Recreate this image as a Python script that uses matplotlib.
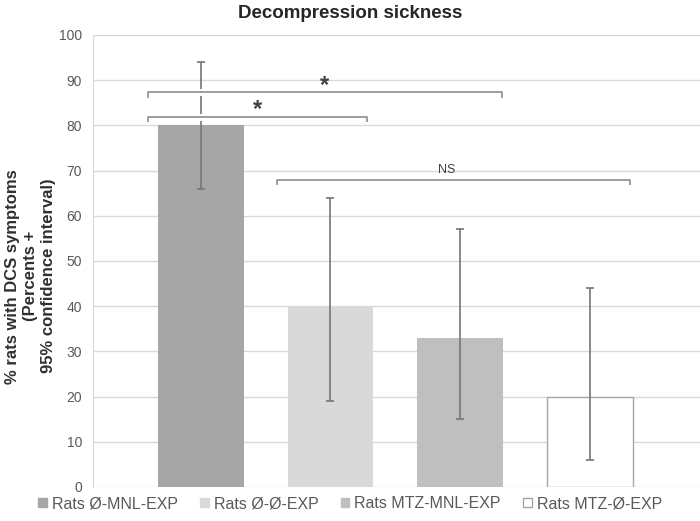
import numpy as np
import matplotlib.pyplot as plt
import matplotlib.patheffects as pe
from matplotlib.patches import Patch

plt.rcParams['font.family'] = ['Liberation Sans', 'DejaVu Sans']

groups = ["Rats Ø-MNL-EXP", "Rats Ø-Ø-EXP", "Rats MTZ-MNL-EXP", "Rats MTZ-Ø-EXP"]
percent = [80, 40, 33, 20]
ci_low = [66, 19, 15, 6]
ci_high = [94, 64, 57, 44]
colors = ["#a6a6a6", "#d9d9d9", "#bfbfbf", "#ffffff"]

# significance brackets: (x start, x end, y level, label)
brackets = [(-0.41, 2.32, 87.3, "*"), (-0.41, 1.28, 81.9, "*"), (0.585, 3.31, 67.9, "NS")]

fig = plt.figure(figsize=(7, 5.21), dpi=100)
ax = fig.add_axes([0.133, 0.0653, 0.867, 0.8677])

x = np.arange(len(groups))
ax.set_axisbelow(True)
ax.yaxis.grid(True, color="#d9d9d9", linewidth=1)
ax.bar(x, percent, width=0.66, color=colors, edgecolor=["none", "none", "none", "#a6a6a6"], linewidth=1, zorder=2)

yerr = [np.array(percent) - np.array(ci_low), np.array(ci_high) - np.array(percent)]
ax.errorbar(x, percent, yerr=yerr, fmt="none", ecolor="#767676", elinewidth=1.2, capsize=3, capthick=1.2, zorder=3)

for x0, x1, y, label in brackets:
    xs = [x0, x0, x1, x1]
    ys = [y - 1.2, y, y, y - 1.2]
    ax.plot(xs, ys, color="#8c8c8c", linewidth=1.2, zorder=4, solid_capstyle="butt",
            path_effects=[pe.Stroke(linewidth=5, foreground="white"), pe.Normal()])
    if label == "*":
        ax.text((x0 + x1) / 2, y - 1.0, label, ha="center", va="bottom", fontsize=17,
                fontweight="bold", color="#404040", zorder=5)
    else:
        ax.text((x0 + x1) / 2 - 0.05, y + 1.0, label, ha="center", va="bottom", fontsize=9, color="#404040", zorder=5)

ax.set_xlim(-0.83, 3.85)
ax.set_ylim(0, 100)
ax.set_yticks(np.arange(0, 101, 10))
ax.set_xticks([])
ax.tick_params(axis="y", length=0, labelsize=10, labelcolor="#595959", pad=8)
for side in ["top", "right", "bottom"]:
    ax.spines[side].set_visible(False)
ax.spines["left"].set_color("#d9d9d9")

fig.text(0.044, 0.47, "% rats with DCS symptoms\n(Percents +\n95% confidence interval)", rotation=90,
         ha="center", va="center", multialignment="center",
         fontsize=12, fontweight="bold", color="#303030", linespacing=1.25)
fig.text(0.5, 0.975, "Decompression sickness", ha="center", va="center", fontsize=13.5, fontweight="bold", color="#262626")

handles = [Patch(facecolor=c, edgecolor=("#a6a6a6" if c == "#ffffff" else c)) for c in colors]
fig.legend(handles, groups, loc="center", bbox_to_anchor=(0.5, 0.033), ncol=4, frameon=False,
           fontsize=11.5, labelcolor="#595959", handlelength=0.55, handleheight=0.55, handletextpad=0.3,
           columnspacing=1.4)

plt.savefig("out.png")
